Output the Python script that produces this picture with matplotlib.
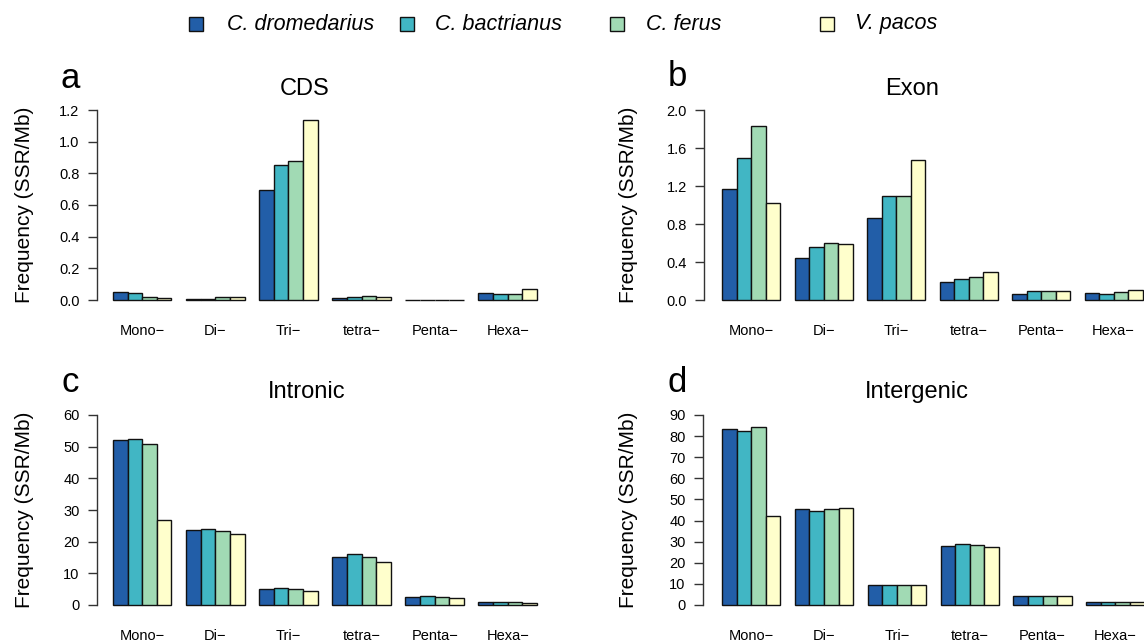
import matplotlib
matplotlib.use("Agg")
import matplotlib.pyplot as plt
from matplotlib.patches import Rectangle
import numpy as np

plt.rcParams['font.family'] = ['Liberation Sans', 'DejaVu Sans']

# data
categories = ['Mono\u2212', 'Di\u2212', 'Tri\u2212', 'tetra\u2212', 'Penta\u2212', 'Hexa\u2212']
species = ['C. dromedarius', 'C. bactrianus', 'C. ferus', 'V. pacos']
colors = ['#225EA8', '#41B6C4', '#A1DAB4', '#FFFFCC']

cds = [[0.051, 0.008, 0.693, 0.015, 0.003, 0.044],
       [0.045, 0.009, 0.855, 0.020, 0.003, 0.040],
       [0.022, 0.020, 0.878, 0.026, 0.003, 0.040],
       [0.010, 0.020, 1.137, 0.020, 0.002, 0.067]]
exon = [[1.17, 0.44, 0.86, 0.19, 0.06, 0.07],
        [1.50, 0.56, 1.09, 0.22, 0.10, 0.06],
        [1.83, 0.60, 1.09, 0.24, 0.09, 0.08],
        [1.02, 0.59, 1.47, 0.29, 0.09, 0.11]]
intronic = [[52.1, 23.8, 5.05, 15.3, 2.6, 0.8],
            [52.5, 24.1, 5.3, 16.0, 2.7, 0.8],
            [51.0, 23.3, 5.05, 15.2, 2.6, 0.8],
            [26.8, 22.3, 4.5, 13.6, 2.3, 0.7]]
intergenic = [[83.5, 45.6, 9.6, 28.1, 4.4, 1.4],
              [82.3, 44.4, 9.3, 28.7, 4.4, 1.4],
              [84.5, 45.6, 9.6, 28.4, 4.4, 1.4],
              [42.2, 46.1, 9.3, 27.3, 4.3, 1.3]]

W, H = 1144, 643
fig = plt.figure(figsize=(W / 100, H / 100), dpi=100)


def fx(px):
    return px / W


def fy(py):
    return 1 - py / H


# panel: (data, title, letter, yticks, fmt, spine_x, unit1_x, px_per_unit, y0_px, ytop_px, title_x, title_y, letter_x, letter_y, ylabel_x)
panels = [
    (cds, 'CDS', 'a', np.arange(0, 1.21, 0.2), '%.1f', 97, 113, 14.62, 300, 110, 305, 89, 70, 78, 25),
    (exon, 'Exon', 'b', np.arange(0, 2.01, 0.4), '%.1f', 704, 722, 14.5, 300, 110, 912, 89, 677, 76, 628),
    (intronic, 'Intronic', 'c', np.arange(0, 61, 10), '%d', 97, 113, 14.62, 605, 415, 307, 392, 70, 382, 25),
    (intergenic, 'Intergenic', 'd', np.arange(0, 91, 10), '%d', 703, 722, 14.57, 605, 415, 917, 392, 677, 382, 628),
]

for (data, title, letter, yticks, fmt, sx, u1, ppu, y0, yt,
     tx, ty, lx, ly, ylx) in panels:
    xmin, xmax = -0.1 if sx < 400 else 1 - (u1 - sx) / ppu, 31
    left = u1 + (xmin - 1) * ppu
    right = u1 + (xmax - 1) * ppu
    ax = fig.add_axes([fx(left), fy(y0), (right - left) / W, (y0 - yt) / H])
    ax.set_xlim(xmin, xmax)
    ax.set_ylim(0, yticks[-1])

    for s, series in enumerate(data):
        xpos = [1 + 5 * g + s for g in range(len(categories))]
        ax.bar(xpos, series, width=1, align='edge', color=colors[s],
               edgecolor='#111111', linewidth=1.0, clip_on=False)

    for sp in ['top', 'right', 'bottom']:
        ax.spines[sp].set_visible(False)
    ax.spines['left'].set_color('#333333')
    ax.spines['left'].set_linewidth(1.0)
    ax.spines['left'].set_bounds(0, yticks[-1])
    ax.set_yticks(yticks)
    ax.set_yticklabels([fmt % v for v in yticks])
    ax.tick_params(axis='y', direction='out', length=6.5, width=1.0,
                   color='#333333', pad=6, labelsize=10.5)
    ax.set_xticks([3 + 5 * g for g in range(len(categories))])
    ax.set_xticklabels(categories)
    ax.tick_params(axis='x', length=0, pad=17, labelsize=10.5)
    ax.patch.set_visible(False)

    fig.text(fx(tx), fy(ty), title, ha='center', va='center', fontsize=17)
    fig.text(fx(lx), fy(ly), letter, ha='center', va='center', fontsize=25)
    fig.text(fx(ylx), fy((y0 + yt) / 2), 'Frequency (SSR/Mb)', rotation=90,
             ha='center', va='center', fontsize=15)

# legend across the top
sq_x = [189, 400, 610, 820]
txt_x = [227, 435, 646, 855]
for i in range(len(species)):
    fig.add_artist(Rectangle((fx(sq_x[i]), fy(31)), 14 / W, 14 / H,
                             transform=fig.transFigure, facecolor=colors[i],
                             edgecolor='#111111', linewidth=1.0))
    fig.text(fx(txt_x[i]), fy(24), species[i], ha='left', va='center',
             fontsize=15.5, style='italic')

fig.savefig('out.png', dpi=100)
